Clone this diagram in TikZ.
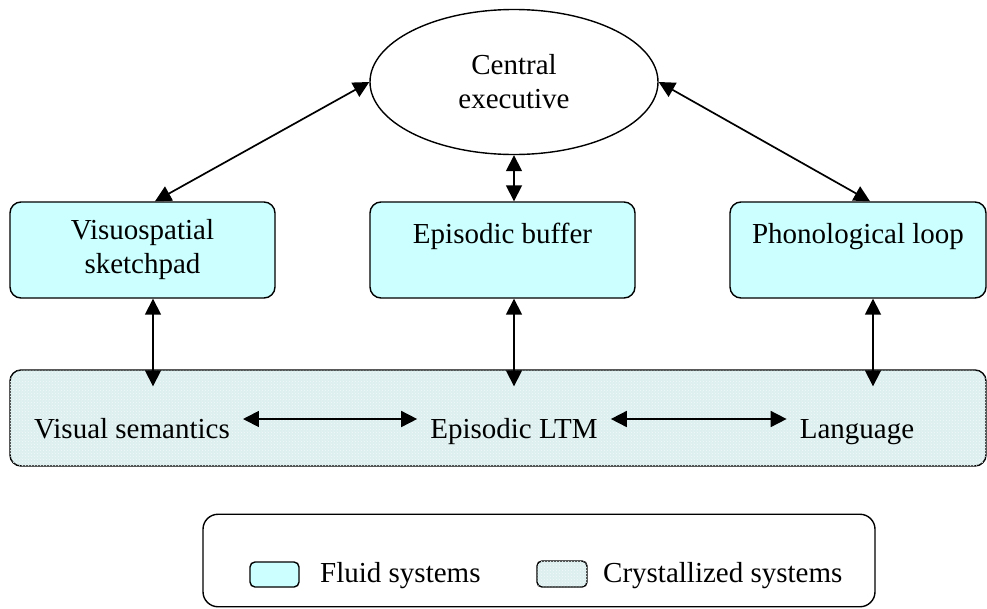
\documentclass[tikz,border=0pt]{standalone}
\usepackage{fontspec}
\setmainfont{Liberation Serif}
\usetikzlibrary{arrows.meta,shapes.geometric,calc,patterns}
\definecolor{fluid}{HTML}{CCFFFF}
\definecolor{crystal}{HTML}{DDEFEF}
\tikzset{
  fluidbox/.style={draw,line width=1.4pt,rounded corners=11pt,fill=fluid,align=center,inner sep=0pt},
  crystbox/.style={draw,line width=1.4pt,rounded corners=11pt,fill=crystal,
    postaction={pattern=crosshatch dots,pattern color=white!60!crystal},inner sep=0pt},
  memtext/.style={anchor=base,text height=20pt,text depth=6pt,inner xsep=13pt,inner ysep=0pt},
  link/.style={line width=1.7pt,{Triangle[length=16pt,width=16pt]}-{Triangle[length=16pt,width=16pt]}}
}
\begin{document}
\begin{tikzpicture}[x=1pt,y=-1pt,font=\fontsize{29}{34}\selectfont]
\useasboundingbox (0,0) rectangle (987,608);
\node[draw,ellipse,line width=1.4pt,minimum width=288pt,minimum height=145pt,inner sep=0pt,align=center] (ce) at (514,82) {Central\\executive};
\node[fluidbox,minimum width=265pt,minimum height=96pt] (vs) at (142.5,250) {Visuospatial\\sketchpad};
\node[fluidbox,minimum width=265pt,minimum height=96pt] (eb) at (502.5,250) {Episodic buffer\\\mbox{}};
\node[fluidbox,minimum width=256pt,minimum height=96pt] (pl) at (858,250) {Phonological loop\\\mbox{}};
\node[crystbox,minimum width=976pt,minimum height=96pt] (mem) at (498,418) {};
\node[memtext] (vsem) at (132,438) {Visual semantics};
\node[memtext] (ltm) at (514,438) {Episodic LTM};
\node[memtext] (lang) at (857,438) {Language};
% executive links
\draw[link] (ce.west) -- ([xshift=12.5pt]vs.north);
\draw[link] (ce.east) -- ([xshift=12pt]pl.north);
\draw[link] (ce.south) -- (ce.south |- eb.north);
% buffers to long-term stores
\foreach \b/\d in {vs/10.5,eb/11.5,pl/15}
\draw[link] ($(\b.south)+(\d,0)$) -- ($(\b.south |- mem.north)+(\d,17)$);
\draw[link] ([yshift=12pt]vsem.east) -- ([yshift=12pt]ltm.west);
\draw[link] ([yshift=12pt]ltm.east) -- ([yshift=12pt]lang.west);
% key
\node[draw,line width=1.4pt,rounded corners=15pt,minimum width=672pt,minimum height=92.5pt] (key) at (539,560.5) {};
\node[fluidbox,rounded corners=5pt,minimum width=49pt,minimum height=25pt] (fluidkey) at (274.5,574.5) {};
\node[crystbox,rounded corners=5pt,minimum width=50pt,minimum height=26pt] (crystkey) at (562,574) {};
\node[anchor=base west,inner sep=0pt] (fluidtxt) at (320,582) {Fluid systems};
\node[anchor=base west,inner sep=0pt] (crysttxt) at (603,582) {Crystallized systems};
\end{tikzpicture}
\end{document}
